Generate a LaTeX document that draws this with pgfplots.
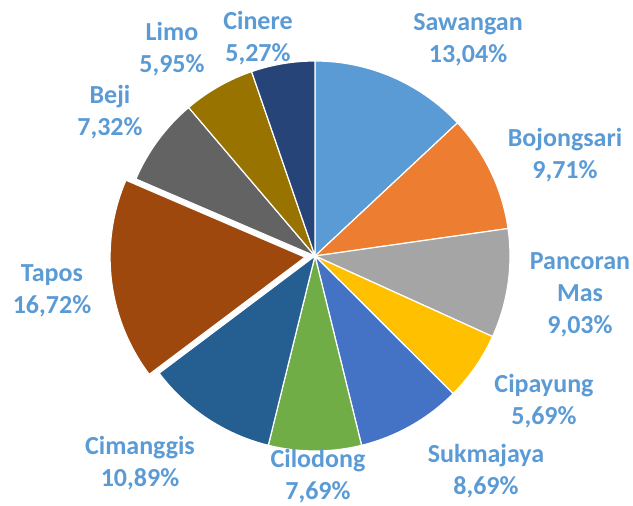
\documentclass[border=0pt]{standalone}
\usepackage{pgfplots}
\pgfplotsset{compat=1.18}
\usepackage{pgfplotstable}
\usepackage{fontspec}
\setmainfont{Carlito}

\definecolor{cSaw}{HTML}{5B9BD5}
\definecolor{cBoj}{HTML}{ED7D31}
\definecolor{cPan}{HTML}{A5A5A5}
\definecolor{cCip}{HTML}{FFC000}
\definecolor{cSuk}{HTML}{4472C4}
\definecolor{cCil}{HTML}{70AD47}
\definecolor{cCim}{HTML}{255E91}
\definecolor{cTap}{HTML}{9E480E}
\definecolor{cBej}{HTML}{636363}
\definecolor{cLim}{HTML}{997300}
\definecolor{cCin}{HTML}{264478}
\definecolor{lbl}{HTML}{5B9BD5}

\tikzset{lab/.style={font=\bfseries\fontsize{26}{32}\selectfont, text=lbl, align=center, inner sep=0pt}}

% share (%), colour, explode offset (pt)
\pgfplotstableread{
value color explode
13.04 cSaw 0
9.71  cBoj 0
9.03  cPan 0
5.69  cCip 0
8.69  cSuk 0
7.69  cCil 0
10.89 cCim 0
16.72 cTap 10
7.32  cBej 0
5.95  cLim 0
5.27  cCin 0
}\piedata

\begin{document}
\begin{tikzpicture}
\begin{axis}[
    hide axis,
    scale only axis,
    width=633pt, height=506pt,
    xmin=0, xmax=633, ymin=0, ymax=506,
    clip=false,
]
\path (axis cs:0,0) rectangle (axis cs:633,506);
\def\cum{0}
\pgfplotsforeachungrouped \i in {0,...,10}{
    \pgfplotstablegetelem{\i}{value}\of\piedata \let\pieV=\pgfplotsretval
    \pgfplotstablegetelem{\i}{color}\of\piedata \let\pieC=\pgfplotsretval
    \pgfplotstablegetelem{\i}{explode}\of\piedata \let\pieE=\pgfplotsretval
    \pgfmathsetmacro\pa{90-3.6*\cum}
    \pgfmathsetmacro\pb{90-3.6*(\cum+\pieV)}
    \pgfmathsetmacro\pm{(\pa+\pb)/2}
    \edef\temp{\noexpand\fill[\pieC, draw=white, line width=1.2pt]
        (axis cs:315,250) ++(\pm:\pieE pt) -- ++(\pa:195pt)
        arc[start angle=\pa, end angle=\pb, radius=195pt] -- cycle;}
    \temp
    \pgfmathsetmacro\cum{\cum+\pieV}
}
\node[lab] at (axis cs:468,466.5) {Sawangan\\13,04\%};
\node[lab] at (axis cs:565,351) {Bojongsari\\9,71\%};
\node[lab] at (axis cs:580,211) {Pancoran\\Mas\\9,03\%};
\node[lab] at (axis cs:544,105) {Cipayung\\5,69\%};
\node[lab] at (axis cs:486,35) {Sukmajaya\\8,69\%};
\node[lab] at (axis cs:318,30) {Cilodong\\7,69\%};
\node[lab] at (axis cs:140,43) {Cimanggis\\10,89\%};
\node[lab] at (axis cs:52,215) {Tapos\\16,72\%};
\node[lab] at (axis cs:110,393.5) {Beji\\7,32\%};
\node[lab] at (axis cs:172,457) {Limo\\5,95\%};
\node[lab] at (axis cs:258,467.5) {Cinere\\5,27\%};
\end{axis}
\end{tikzpicture}
\end{document}
